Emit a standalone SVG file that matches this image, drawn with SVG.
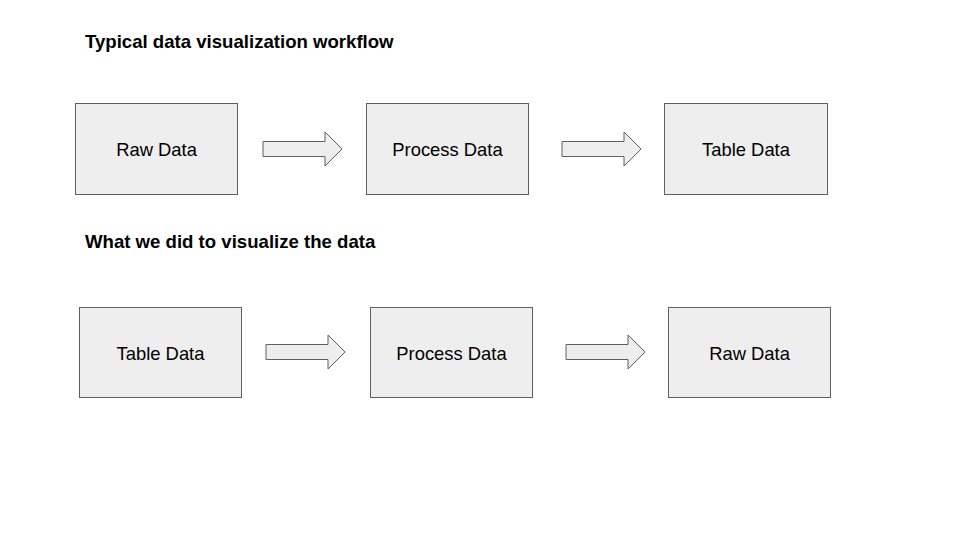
<svg xmlns="http://www.w3.org/2000/svg" width="960" height="540" viewBox="0 0 960 540">
<style>
.box{fill:#eeeeee;stroke:#5f5f5f;stroke-width:1}
.lbl{font-family:"Liberation Sans",Arial,sans-serif;font-size:18.4px;fill:#000;text-anchor:middle;dominant-baseline:central}
.ttl{font-family:"Liberation Sans",Arial,sans-serif;font-size:18.6px;font-weight:bold;fill:#000}
.arr{fill:#eeeeee;stroke:#5f5f5f;stroke-width:1}
</style>
<defs>
<path id="ar" d="M0,-7.5 L62,-7.5 L62,-17 L79,0 L62,17 L62,7.5 L0,7.5 Z"/>
</defs>
<rect width="960" height="540" fill="#ffffff"/>
<text class="ttl" x="85" y="48">Typical data visualization workflow</text>
<text class="ttl" x="85" y="248">What we did to visualize the data</text>
<g id="n1"><rect class="box" x="75.5" y="103.5" width="162" height="91"/><text class="lbl" x="156.5" y="149">Raw Data</text></g>
<g id="n2"><rect class="box" x="366.5" y="103.5" width="162" height="91"/><text class="lbl" x="447.5" y="149">Process Data</text></g>
<g id="n3"><rect class="box" x="664.5" y="103.5" width="163" height="91"/><text class="lbl" x="746" y="149">Table Data</text></g>
<g id="n4"><rect class="box" x="79.5" y="307.5" width="162" height="90"/><text class="lbl" x="160.5" y="353">Table Data</text></g>
<g id="n5"><rect class="box" x="370.5" y="307.5" width="162" height="90"/><text class="lbl" x="451.5" y="353">Process Data</text></g>
<g id="n6"><rect class="box" x="668.5" y="307.5" width="162" height="90"/><text class="lbl" x="749.5" y="353">Raw Data</text></g>
<g id="connectors">
<use href="#ar" class="arr" transform="translate(263,149)"/>
<use href="#ar" class="arr" transform="translate(562,149)"/>
<use href="#ar" class="arr" transform="translate(266,352)"/>
<use href="#ar" class="arr" transform="translate(566,352)"/>
</g>
</svg>
